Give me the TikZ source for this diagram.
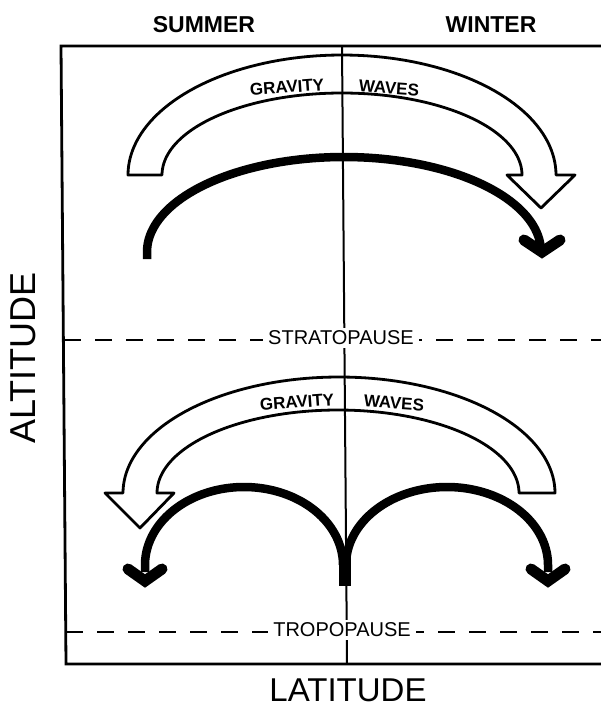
\documentclass[tikz,border=0pt]{standalone}
\usepackage{fontspec}
\setmainfont{Liberation Sans}
\begin{document}
\begin{tikzpicture}[x=1pt,y=-1pt,
  frame/.style={line width=2.8pt},
  pause/.style={line width=2.8pt,dash pattern=on 17pt off 14pt},
  axisline/.style={line width=2pt},
  hollow/.style={line width=2.8pt,line join=round},
  thickarc/.style={line width=8.5pt},
  chev/.style={line width=11pt,line cap=round,line join=miter},
  season/.style={font=\fontsize{23}{26}\selectfont\bfseries,inner sep=0pt},
  gw/.style={font=\fontsize{17}{20}\selectfont\bfseries,inner sep=0pt},
  pauselbl/.style={font=\fontsize{20}{23}\selectfont,fill=white,inner xsep=5pt,inner ysep=3pt},
  axislbl/.style={font=\fontsize{33}{36}\selectfont,inner sep=0pt}]
\useasboundingbox (0,0) rectangle (601,708);
% frame
\coordinate (tl) at (61,46);
\coordinate (tr) at (601,46);
\coordinate (bl) at (66,664);
\coordinate (br) at (601,664);
\draw[frame] (tr) -- (tl) -- (bl) -- (br);
% dashed pause lines
\coordinate (sl) at (64,340);
\coordinate (sr) at (601,340);
\coordinate (pl) at (66,632);
\coordinate (pr) at (601,632);
\draw[pause] (sl) -- (sr);
\draw[pause] (pl) -- (pr);
% vertical centre line
\coordinate (vt) at (342,46);
\coordinate (vb) at (347,664);
\draw[axisline] (vt) -- (vb);
% labels on pauses
\node[pauselbl] (strato) at (341,338) {STRATOPAUSE};
\node[pauselbl] (tropo) at (342,630) {TROPOPAUSE};
% seasons and axes
\node[season] (summer) at (204,25) {SUMMER};
\node[season] (winter) at (491,25) {WINTER};
\node[axislbl] (lat) at (348,690) {LATITUDE};
\node[axislbl,rotate=90,font=\fontsize{36}{38}\selectfont] (alt) at (23,358) {ALTITUDE};
% upper hollow arrow (towards winter)
\draw[hollow] (128,175)
  -- plot[domain=180:0,samples=90] ({342+214*cos(\x)},{175-120*sin(\x)})
  -- (575,175) -- (541,208) -- (507,175)
  -- plot[domain=0:180,samples=90] ({342+180*cos(\x)},{175-82*sin(\x)})
  -- cycle;
\node[gw,rotate=4] (g1) at (287,87) {GRAVITY};
\node[gw,rotate=-4] (w1) at (389,88) {WAVES};
% upper thick arc
\draw[thickarc] (147,259)
  -- plot[domain=180:0,samples=90] ({344+197*cos(\x)},{252-95*sin(\x)});
\draw[chev] (524,240) -- (542,252) -- (560,240);
% lower hollow arrow (towards summer)
\draw[hollow] (555,493)
  -- plot[domain=0:180,samples=90] ({339+216*cos(\x)},{493-116*sin(\x)})
  -- (105,493) -- (140,528) -- (174,493)
  -- plot[domain=180:0,samples=90] ({338+181*cos(\x)},{493-83*sin(\x)})
  -- cycle;
\node[gw,rotate=4] (g2) at (297,402) {GRAVITY};
\node[gw,rotate=-4] (w2) at (394,403) {WAVES};
% lower thick arches
\draw[thickarc] plot[domain=0:180,samples=90] ({244+99*cos(\x)},{565-78*sin(\x)}) -- (145,572);
\draw[thickarc] plot[domain=180:0,samples=90] ({447+101*cos(\x)},{565-78*sin(\x)}) -- (548,572);
\fill (339,556) rectangle (351,586);
\draw[chev] (128,569) -- (145,581) -- (162,569);
\draw[chev] (531,569) -- (548,581) -- (565,569);
\end{tikzpicture}
\end{document}
